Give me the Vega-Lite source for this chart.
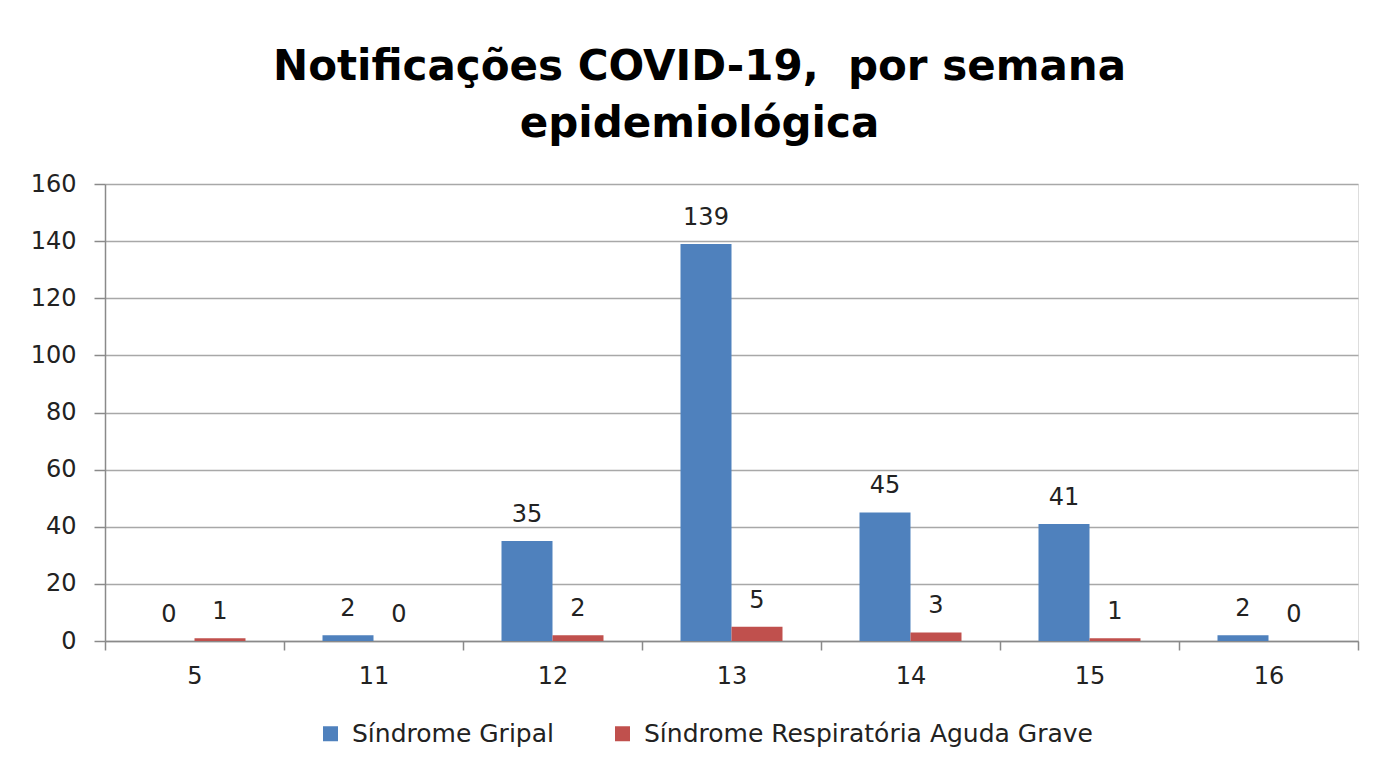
{
  "$schema": "https://vega.github.io/schema/vega-lite/v6.json",
  "width": 1253,
  "height": 457,
  "autosize": {"type": "none"},
  "padding": {"left": 105, "top": 184, "right": 25, "bottom": 124},
  "background": "white",
  "title": {
    "text": ["Notificações COVID-19,\u00a0 por semana", "epidemiológica"],
    "font": "DejaVu Sans",
    "fontSize": 42,
    "fontWeight": "bold",
    "color": "#000000",
    "anchor": "middle",
    "dx": -32,
    "offset": 26,
    "lineHeight": 57
  },
  "data": {
    "values": [
      {"semana": "5", "serie": "Síndrome Gripal", "casos": 0},
      {"semana": "5", "serie": "Síndrome Respiratória  Aguda Grave", "casos": 1},
      {"semana": "11", "serie": "Síndrome Gripal", "casos": 2},
      {"semana": "11", "serie": "Síndrome Respiratória  Aguda Grave", "casos": 0},
      {"semana": "12", "serie": "Síndrome Gripal", "casos": 35},
      {"semana": "12", "serie": "Síndrome Respiratória  Aguda Grave", "casos": 2},
      {"semana": "13", "serie": "Síndrome Gripal", "casos": 139},
      {"semana": "13", "serie": "Síndrome Respiratória  Aguda Grave", "casos": 5},
      {"semana": "14", "serie": "Síndrome Gripal", "casos": 45},
      {"semana": "14", "serie": "Síndrome Respiratória  Aguda Grave", "casos": 3},
      {"semana": "15", "serie": "Síndrome Gripal", "casos": 41},
      {"semana": "15", "serie": "Síndrome Respiratória  Aguda Grave", "casos": 1},
      {"semana": "16", "serie": "Síndrome Gripal", "casos": 2},
      {"semana": "16", "serie": "Síndrome Respiratória  Aguda Grave", "casos": 0}
    ]
  },
  "encoding": {
    "x": {
      "field": "semana",
      "type": "ordinal",
      "sort": ["5", "11", "12", "13", "14", "15", "16"],
      "scale": {"paddingInner": 0, "paddingOuter": 0},
      "axis": {
        "title": null,
        "labelAngle": 0,
        "tickBand": "extent",
        "tickSize": 9,
        "tickColor": "#8a8a8a",
        "domainColor": "#8a8a8a",
        "domainWidth": 1.5,
        "tickWidth": 1.5,
        "labelPadding": 14,
        "labelFont": "DejaVu Sans",
        "labelFontSize": 24,
        "labelColor": "#222222",
        "grid": false
      }
    },
    "xOffset": {
      "field": "serie",
      "sort": ["Síndrome Gripal", "Síndrome Respiratória  Aguda Grave"],
      "scale": {"paddingInner": 0, "paddingOuter": 0.755}
    },
    "y": {
      "field": "casos",
      "type": "quantitative",
      "scale": {"domain": [0, 160], "nice": false},
      "axis": {
        "title": null,
        "values": [0, 20, 40, 60, 80, 100, 120, 140, 160],
        "grid": true,
        "gridColor": "#a8a8a8",
        "gridWidth": 1.5,
        "domainColor": "#8a8a8a",
        "domainWidth": 1.5,
        "tickColor": "#8a8a8a",
        "tickWidth": 1.5,
        "tickSize": 11,
        "labelPadding": 18,
        "labelFont": "DejaVu Sans",
        "labelFontSize": 24,
        "labelColor": "#222222"
      }
    }
  },
  "layer": [
    {
      "mark": {"type": "bar"},
      "encoding": {
        "color": {
          "field": "serie",
          "type": "nominal",
          "sort": ["Síndrome Gripal", "Síndrome Respiratória  Aguda Grave"],
          "scale": {"range": ["#4F81BD", "#C0504D"]},
          "legend": {
            "title": null,
            "orient": "none",
            "legendX": 213,
            "legendY": 537,
            "direction": "horizontal",
            "symbolType": "square",
            "symbolSize": 225,
            "symbolStrokeWidth": 0,
            "labelFont": "DejaVu Sans",
            "labelFontSize": 25,
            "labelColor": "#222222",
            "labelOffset": 9,
            "columnPadding": 56,
            "labelLimit": 700
          }
        }
      }
    },
    {
      "mark": {
        "type": "text",
        "baseline": "alphabetic",
        "dy": -19,
        "font": "DejaVu Sans",
        "fontSize": 24,
        "color": "#222222"
      },
      "encoding": {
        "text": {"field": "casos", "type": "quantitative"},
        "detail": {"field": "serie"}
      }
    }
  ]
}
